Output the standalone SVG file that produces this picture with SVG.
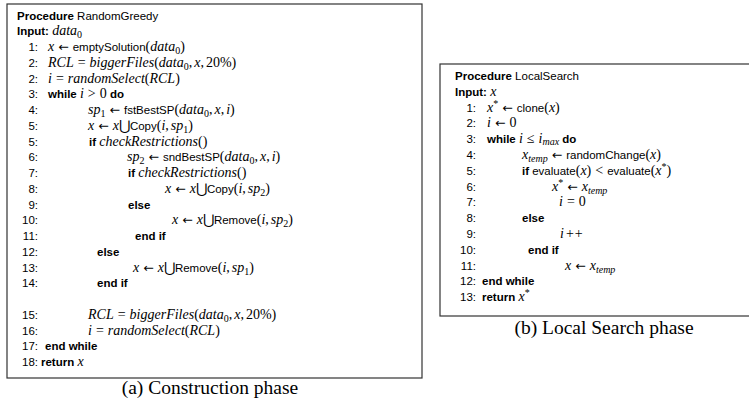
<svg xmlns="http://www.w3.org/2000/svg" width="749" height="406" viewBox="0 0 749 406">
<style>
text{font-family:"Liberation Sans",Arial,sans-serif;font-size:11.5px;fill:#000}
.n{text-anchor:end}
.b{font-weight:bold}
.t{font-size:11.5px}
.m{font-family:"Liberation Serif","Times New Roman",serif;font-style:italic;font-size:14px}
.u{font-family:"Liberation Serif","Times New Roman",serif;font-style:normal;font-size:14px}
.a{font-family:"DejaVu Sans",sans-serif;font-size:12.5px}
.sb{font-size:10px}
.cap{font-family:"Liberation Serif","Times New Roman",serif;font-size:19.5px;text-anchor:middle}
.box{fill:#fff;stroke:#333;stroke-width:1.2}
</style>
<g id="construction">
<rect class="box" x="7" y="4" width="415" height="374"/>
<text x="17" y="19.5"><tspan class="b">Procedure</tspan> RandomGreedy</text>
<text x="17" y="35.2"><tspan class="b">Input:</tspan> <tspan class="m">data</tspan><tspan class="u sb" dy="3">0</tspan></text>
<text class="n" x="38" y="51">1:</text>
<text x="48" y="51"><tspan class="m">x</tspan><tspan class="a" dx="4">←</tspan><tspan class="t" dx="4">emptySolution</tspan><tspan class="u">(</tspan><tspan class="m">data</tspan><tspan class="u sb" dy="3">0</tspan><tspan class="u" dy="-3">)</tspan></text>
<text class="n" x="38" y="66.7">2:</text>
<text x="48" y="66.7"><tspan class="m">RCL</tspan><tspan class="u" dx="4">=</tspan><tspan class="m" dx="4">biggerFiles</tspan><tspan class="u">(</tspan><tspan class="m">data</tspan><tspan class="u sb" dy="3">0</tspan><tspan class="u" dy="-3">,</tspan><tspan class="m" dx="2">x</tspan><tspan class="u">,</tspan><tspan class="u" dx="2">20%)</tspan></text>
<text class="n" x="38" y="82.5">2:</text>
<text x="48" y="82.5"><tspan class="m">i</tspan><tspan class="u" dx="4">=</tspan><tspan class="m" dx="4">randomSelect</tspan><tspan class="u">(</tspan><tspan class="m">RCL</tspan><tspan class="u">)</tspan></text>
<text class="n" x="38" y="98.2">3:</text>
<text x="48" y="98.2"><tspan class="b">while</tspan> <tspan class="m">i</tspan><tspan class="u" dx="4">&gt;</tspan><tspan class="u" dx="4">0</tspan> <tspan class="b">do</tspan></text>
<text class="n" x="38" y="114">4:</text>
<text x="88" y="114"><tspan class="m">sp</tspan><tspan class="u sb" dy="3">1</tspan><tspan class="a" dx="4" dy="-3">←</tspan><tspan class="t" dx="4">fstBestSP</tspan><tspan class="u">(</tspan><tspan class="m">data</tspan><tspan class="u sb" dy="3">0</tspan><tspan class="u" dy="-3">,</tspan><tspan class="m" dx="2">x</tspan><tspan class="u">,</tspan><tspan class="m" dx="2">i</tspan><tspan class="u">)</tspan></text>
<text class="n" x="38" y="129.7">5:</text>
<text x="88" y="129.7"><tspan class="m">x</tspan><tspan class="a" dx="4">←</tspan><tspan class="m" dx="4">x</tspan><tspan class="u">⋃</tspan><tspan class="t">Copy</tspan><tspan class="u">(</tspan><tspan class="m">i</tspan><tspan class="u">,</tspan><tspan class="m" dx="2">sp</tspan><tspan class="u sb" dy="3">1</tspan><tspan class="u" dy="-3">)</tspan></text>
<text class="n" x="38" y="145.5">5:</text>
<text x="89" y="145.5"><tspan class="b">if</tspan> <tspan class="m">checkRestrictions</tspan><tspan class="u">()</tspan></text>
<text class="n" x="38" y="161.2">6:</text>
<text x="127" y="161.2"><tspan class="m">sp</tspan><tspan class="u sb" dy="3">2</tspan><tspan class="a" dx="4" dy="-3">←</tspan><tspan class="t" dx="4">sndBestSP</tspan><tspan class="u">(</tspan><tspan class="m">data</tspan><tspan class="u sb" dy="3">0</tspan><tspan class="u" dy="-3">,</tspan><tspan class="m" dx="2">x</tspan><tspan class="u">,</tspan><tspan class="m" dx="2">i</tspan><tspan class="u">)</tspan></text>
<text class="n" x="38" y="177">7:</text>
<text x="128" y="177"><tspan class="b">if</tspan> <tspan class="m">checkRestrictions</tspan><tspan class="u">()</tspan></text>
<text class="n" x="38" y="192.7">8:</text>
<text x="165" y="192.7"><tspan class="m">x</tspan><tspan class="a" dx="4">←</tspan><tspan class="m" dx="4">x</tspan><tspan class="u">⋃</tspan><tspan class="t">Copy</tspan><tspan class="u">(</tspan><tspan class="m">i</tspan><tspan class="u">,</tspan><tspan class="m" dx="2">sp</tspan><tspan class="u sb" dy="3">2</tspan><tspan class="u" dy="-3">)</tspan></text>
<text class="n" x="38" y="208.5">9:</text>
<text x="128" y="208.5" class="b">else</text>
<text class="n" x="38" y="224.2">10:</text>
<text x="172" y="224.2"><tspan class="m">x</tspan><tspan class="a" dx="4">←</tspan><tspan class="m" dx="4">x</tspan><tspan class="u">⋃</tspan><tspan class="t">Remove</tspan><tspan class="u">(</tspan><tspan class="m">i</tspan><tspan class="u">,</tspan><tspan class="m" dx="2">sp</tspan><tspan class="u sb" dy="3">2</tspan><tspan class="u" dy="-3">)</tspan></text>
<text class="n" x="38" y="240">11:</text>
<text x="135" y="240" class="b">end if</text>
<text class="n" x="38" y="255.7">12:</text>
<text x="97" y="255.7" class="b">else</text>
<text class="n" x="38" y="271.5">13:</text>
<text x="133" y="271.5"><tspan class="m">x</tspan><tspan class="a" dx="4">←</tspan><tspan class="m" dx="4">x</tspan><tspan class="u">⋃</tspan><tspan class="t">Remove</tspan><tspan class="u">(</tspan><tspan class="m">i</tspan><tspan class="u">,</tspan><tspan class="m" dx="2">sp</tspan><tspan class="u sb" dy="3">1</tspan><tspan class="u" dy="-3">)</tspan></text>
<text class="n" x="38" y="287.2">14:</text>
<text x="97" y="287.2" class="b">end if</text>
<text class="n" x="38" y="318.7">15:</text>
<text x="88" y="318.7"><tspan class="m">RCL</tspan><tspan class="u" dx="4">=</tspan><tspan class="m" dx="4">biggerFiles</tspan><tspan class="u">(</tspan><tspan class="m">data</tspan><tspan class="u sb" dy="3">0</tspan><tspan class="u" dy="-3">,</tspan><tspan class="m" dx="2">x</tspan><tspan class="u">,</tspan><tspan class="u" dx="2">20%)</tspan></text>
<text class="n" x="38" y="334.5">16:</text>
<text x="88" y="334.5"><tspan class="m">i</tspan><tspan class="u" dx="4">=</tspan><tspan class="m" dx="4">randomSelect</tspan><tspan class="u">(</tspan><tspan class="m">RCL</tspan><tspan class="u">)</tspan></text>
<text class="n" x="38" y="350.2">17:</text>
<text x="45" y="350.2" class="b">end while</text>
<text class="n" x="38" y="366">18:</text>
<text x="41" y="366"><tspan class="b">return</tspan> <tspan class="m">x</tspan></text>
<text class="cap" x="210" y="394">(a) Construction phase</text>
</g>
<g id="localsearch">
<rect class="box" x="440" y="64" width="330" height="252"/>
<text x="455" y="80"><tspan class="b">Procedure</tspan> LocalSearch</text>
<text x="455" y="95.8"><tspan class="b">Input:</tspan> <tspan class="m">x</tspan></text>
<text class="n" x="476" y="111.6">1:</text>
<text x="487" y="111.6"><tspan class="m">x</tspan><tspan class="u sb" dy="-5">*</tspan><tspan class="a" dx="4" dy="5">←</tspan><tspan class="t" dx="4">clone</tspan><tspan class="u">(</tspan><tspan class="m">x</tspan><tspan class="u">)</tspan></text>
<text class="n" x="476" y="127.4">2:</text>
<text x="487" y="127.4"><tspan class="m">i</tspan><tspan class="a" dx="4">←</tspan><tspan class="u" dx="4">0</tspan></text>
<text class="n" x="476" y="143.2">3:</text>
<text x="487" y="143.2"><tspan class="b">while</tspan> <tspan class="m">i</tspan><tspan class="u" dx="4">≤</tspan><tspan class="m" dx="4">i</tspan><tspan class="m sb" dy="2">max</tspan> <tspan class="b" dy="-2">do</tspan></text>
<text class="n" x="476" y="159">4:</text>
<text x="522" y="159"><tspan class="m">x</tspan><tspan class="m sb" dy="3">temp</tspan><tspan class="a" dx="4" dy="-3">←</tspan><tspan class="t" dx="4">randomChange</tspan><tspan class="u">(</tspan><tspan class="m">x</tspan><tspan class="u">)</tspan></text>
<text class="n" x="476" y="174.8">5:</text>
<text x="522" y="174.8"><tspan class="b">if</tspan> evaluate<tspan class="u">(</tspan><tspan class="m">x</tspan><tspan class="u">)</tspan><tspan class="u" dx="4">&lt;</tspan><tspan class="t" dx="4">evaluate</tspan><tspan class="u">(</tspan><tspan class="m">x</tspan><tspan class="u sb" dy="-5">*</tspan><tspan class="u" dy="5">)</tspan></text>
<text class="n" x="476" y="190.6">6:</text>
<text x="552" y="190.6"><tspan class="m">x</tspan><tspan class="u sb" dy="-5">*</tspan><tspan class="a" dx="4" dy="5">←</tspan><tspan class="m" dx="4">x</tspan><tspan class="m sb" dy="3">temp</tspan></text>
<text class="n" x="476" y="206.4">7:</text>
<text x="559" y="206.4"><tspan class="m">i</tspan><tspan class="u" dx="4">=</tspan><tspan class="u" dx="4">0</tspan></text>
<text class="n" x="476" y="222.2">8:</text>
<text x="522" y="222.2" class="b">else</text>
<text class="n" x="476" y="238">9:</text>
<text x="560" y="238"><tspan class="m">i</tspan><tspan class="u" dx="2">+</tspan><tspan class="u" dx="1">+</tspan></text>
<text class="n" x="476" y="253.8">10:</text>
<text x="528" y="253.8" class="b">end if</text>
<text class="n" x="476" y="269.6">11:</text>
<text x="565" y="269.6"><tspan class="m">x</tspan><tspan class="a" dx="4">←</tspan><tspan class="m" dx="4">x</tspan><tspan class="m sb" dy="3">temp</tspan></text>
<text class="n" x="476" y="285.4">12:</text>
<text x="482" y="285.4" class="b">end while</text>
<text class="n" x="476" y="301.2">13:</text>
<text x="482" y="301.2"><tspan class="b">return</tspan> <tspan class="m">x</tspan><tspan class="u sb" dy="-5">*</tspan></text>
<text class="cap" x="604" y="334">(b) Local Search phase</text>
</g>
<g id="connectors"/>
</svg>
